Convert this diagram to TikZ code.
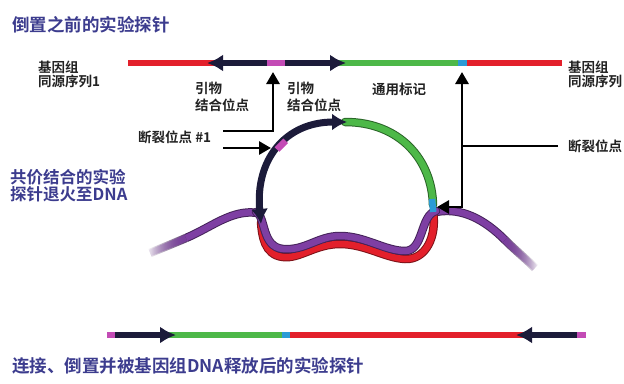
\documentclass[tikz,border=0pt]{standalone}
\usepackage{fontspec}
\setmainfont{Noto Sans CJK SC}[BoldFont={Noto Sans CJK SC Bold}]
\usetikzlibrary{arrows.meta,fadings}
\definecolor{probe}{HTML}{1C1B3A}
\definecolor{homol}{HTML}{E3202B}
\definecolor{umark}{HTML}{4DB848}
\definecolor{cutsite}{HTML}{2B9BD6}
\definecolor{primer}{HTML}{C34BB5}
\definecolor{target}{HTML}{7E3FA3}
\definecolor{heading}{HTML}{3C3C8E}
\definecolor{labeltext}{HTML}{222222}
\tikzset{
  seg/.style={line width=6pt, line cap=butt},
  probearrow/.style={seg, draw=probe, -{Latex[length=16pt,width=17pt]}},
  callout/.style={draw=black, line width=2.8pt, -{Triangle[length=12pt,width=13pt]}},
  lbl/.style={font=\bfseries\fontsize{13.5}{14}\selectfont, text=labeltext,
    align=left, anchor=west, inner sep=0pt},
  heading/.style={font=\bfseries\fontsize{17.5}{18}\selectfont, text=heading,
    align=left, anchor=west, inner sep=0pt},
  strand/.style={line width=8.5pt, line cap=round, draw=#1!55!black,
    postaction={draw=#1, line width=6.5pt}},
  tail/.style={strand=target, line cap=butt}
}
\begin{document}
\begin{tikzpicture}[x=1pt,y=-1pt]
  \useasboundingbox (0,0) rectangle (624,383);

  % headings
  \node[heading] (title1) at (12,25) {倒置之前的实验探针};
  \node[heading, font=\bfseries\fontsize{16.5}{17}\selectfont] (anneal) at (10,186) {共价结合的实验\\探针退火至DNA};
  \node[heading] (title3) at (12,366) {连接、倒置并被基因组DNA释放后的实验探针};

  % probe before inversion
  \draw[seg, homol] (128,63) -- (215,63);
  \draw[seg, umark] (335,63) -- (458,63);
  \draw[seg, cutsite] (458,63) -- (467,63);
  \draw[seg, homol] (467,63) -- (562,63);
  \draw[probearrow] (268,63) -- (207,63);
  \draw[probearrow] (284,63) -- (346,63);
  \draw[seg, primer] (267,63) -- (285,63);

  \node[lbl] (glL) at (38,74) {基因组\\同源序列1};
  \node[lbl] (glR) at (568,74) {基因组\\同源序列};
  \node[lbl, font=\bfseries\fontsize{13.5}{17}\selectfont] (pbA) at (195,97) {引物\\结合位点};
  \node[lbl, font=\bfseries\fontsize{13.5}{17}\selectfont] (pbB) at (287,97) {引物\\结合位点};
  \node[lbl] (umk) at (372,89) {通用标记};
  \node[lbl] (brkA) at (138,137) {断裂位点 \#1};
  \node[lbl] (brkB) at (568,146) {断裂位点};

  % target DNA, its ends fade out
  \draw[tail, path fading=west] (150,253) .. controls (162,248) and (172,244) .. (186,238);
  \draw[tail] (186,238) .. controls (212,227) and (232,209) .. (258,213);
  \draw[tail] (436,212) .. controls (462,207) and (485,220) .. (505,240);
  \draw[tail, path fading=east] (505,240) .. controls (515,250) and (525,258) .. (535,268);
  % annealed probe
  \draw[strand=homol] (433,212) .. controls (437,236) and (426,260) .. (405,259)
    .. controls (385,258) and (365,244) .. (340,244)
    .. controls (315,244) and (300,259) .. (283,257)
    .. controls (264,255) and (262,235) .. (261,222);
  \draw[strand=target] (256,212) .. controls (266,216) and (261,247) .. (283,249)
    .. controls (305,251) and (318,236) .. (340,236)
    .. controls (365,236) and (385,251) .. (405,251)
    .. controls (424,251) and (420,215) .. (436,211);
  \draw[strand=umark] (345,122) .. controls (400,122) and (432,160) .. (433,205);
  \draw[line width=6.5pt, cutsite] (432,199) -- (433.2,212);
  \draw[line width=7pt, probe, {Latex[length=15pt,width=17pt]}-{Latex[length=15pt,width=17pt]}]
    (261,224) .. controls (255,160) and (285,122) .. (347,122);
  \draw[line width=6.5pt, primer] (277,149.5) -- (285.6,140.8);

  % callouts for the break sites
  \coordinate (cutA) at (273,72);
  \coordinate (loopA) at (271,148);
  \draw[callout] ([xshift=12pt,yshift=6pt]brkA.east) -| (cutA);
  \draw[callout] ([xshift=12pt,yshift=-11pt]brkA.east) -- (loopA);
  \coordinate (jB) at (462,146);
  \coordinate (cutB) at (462,72);
  \coordinate (loopB) at (437,207);
  \draw[line width=2.8pt] ([xshift=-10pt]brkB.west) -- (jB);
  \draw[callout] (jB) -- (cutB);
  \draw[callout] ([yshift=1.4pt]jB) |- (loopB);

  % released probe
  \draw[seg, umark] (160,335) -- (283,335);
  \draw[seg, cutsite] (282,335) -- (290,335);
  \draw[seg, homol] (290,335) -- (525,335);
  \draw[probearrow] (114,335) -- (176,335);
  \draw[probearrow] (578,335) -- (516,335);
  \draw[seg, primer] (107,335) -- (115,335);
  \draw[seg, primer] (577,335) -- (586,335);
\end{tikzpicture}
\end{document}
